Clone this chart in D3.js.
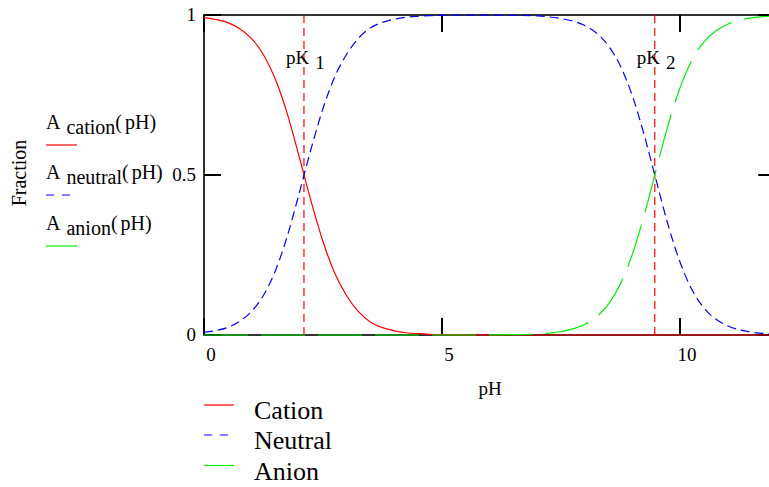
<!DOCTYPE html>
<html>
<head>
<meta charset="utf-8">
<script src="https://cdn.jsdelivr.net/npm/d3@7"></script>
<style>
  html, body { margin: 0; padding: 0; background: #fff; }
  svg { display: block; }
</style>
</head>
<body>
<svg id="chart" width="769" height="487" font-family="'Liberation Serif', 'Times New Roman', Times, 'DejaVu Serif', serif"></svg>
<script>
// ---- data ----
const pH = [0,0.25,0.5,0.75,1,1.25,1.5,1.75,2,2.25,2.5,2.75,3,3.25,3.5,3.75,4,4.25,4.5,4.75,5,5.5,6,6.5,7,7.25,7.5,7.75,8,8.25,8.5,8.75,9,9.25,9.5,9.75,10,10.25,10.5,10.75,11,11.25,11.5,11.75,12];
const cation = [0.992,0.986,0.976,0.957,0.926,0.876,0.799,0.691,0.557,0.418,0.292,0.192,0.122,0.072,0.040,0.023,0.013,0.007,0.004,0.002,0.001,0.0004,0.0001,0,0,0,0,0,0,0,0,0,0,0,0,0,0,0,0,0,0,0,0,0,0];
const neutral = [0.008,0.014,0.024,0.043,0.074,0.124,0.201,0.309,0.443,0.582,0.708,0.808,0.878,0.928,0.960,0.977,0.987,0.993,0.996,0.998,0.999,0.9996,0.9996,0.999,0.997,0.994,0.989,0.981,0.967,0.943,0.903,0.840,0.747,0.624,0.483,0.344,0.228,0.142,0.085,0.050,0.029,0.016,0.009,0.005,0.003];
const anion = [0,0,0,0,0,0,0,0,0,0,0,0,0,0,0,0,0,0,0,0,0,0,0.0003,0.001,0.003,0.006,0.011,0.019,0.033,0.057,0.097,0.160,0.253,0.376,0.517,0.656,0.772,0.858,0.915,0.950,0.971,0.984,0.991,0.995,0.997];
const pKValues = [2.1, 9.47];
const pKLabels = ["1", "2"];
const xTicks = [0, 5, 10];
const yTicks = [0, 0.5, 1];
const yTickLabels = ["0", "0.5", "1"];
const seriesNames = ["Cation", "Neutral", "Anion"];
const seriesFuncNames = ["cation", "neutral", "anion"];

// ---- drawing ----
const svg = d3.select("#chart");
const x = d3.scaleLinear().domain([0, 12]).range([204, 775.2]);
const y = d3.scaleLinear().domain([0, 1]).range([335, 15]);

const colors = ["#ff0000", "#0000ff", "#00ee00"];
const dashes = [null, "9,5", "44,13"];
const legendDashes = [null, "8,8", null];
const series = [cation, neutral, anion];

// frame
svg.append("rect")
  .attr("x", x(0)).attr("y", y(1))
  .attr("width", x(12) - x(0)).attr("height", y(0) - y(1))
  .attr("fill", "none").attr("stroke", "#000").attr("stroke-width", 1.6);

// ticks (inward, all four sides)
const tl = 17;
const tickG = svg.append("g").attr("stroke", "#000").attr("stroke-width", 2);
xTicks.forEach(t => {
  tickG.append("line").attr("x1", x(t)).attr("x2", x(t)).attr("y1", y(0)).attr("y2", y(0) - tl);
  tickG.append("line").attr("x1", x(t)).attr("x2", x(t)).attr("y1", y(1)).attr("y2", y(1) + tl);
});
yTicks.forEach(t => {
  tickG.append("line").attr("x1", x(0)).attr("x2", x(0) + tl).attr("y1", y(t)).attr("y2", y(t));
  tickG.append("line").attr("x1", x(12)).attr("x2", x(12) - tl).attr("y1", y(t)).attr("y2", y(t));
});

// tick labels
xTicks.forEach(t => {
  svg.append("text").attr("x", x(t) + 7).attr("y", 361)
    .attr("text-anchor", "middle").attr("font-size", 19).text(String(t));
});
yTicks.forEach((t, i) => {
  svg.append("text").attr("x", 196).attr("y", y(t) + 6)
    .attr("text-anchor", "end").attr("font-size", 19).text(yTickLabels[i]);
});

// pK vertical lines
pKValues.forEach((k, i) => {
  svg.append("line").attr("x1", x(k)).attr("x2", x(k)).attr("y1", y(1)).attr("y2", y(0))
    .attr("stroke", "#ff0000").attr("stroke-width", 1.2).attr("stroke-dasharray", "8,5");
  const t = svg.append("text").attr("x", x(k) - 18).attr("y", 64).attr("font-size", 19);
  t.append("tspan").text("pK");
  t.append("tspan").attr("dx", 6).attr("dy", 5).text(pKLabels[i]);
});

// curves
const line = d3.line().x(d => x(d[0])).y(d => y(d[1])).curve(d3.curveMonotoneX);
series.forEach((vals, i) => {
  const pts = pH.map((p, j) => [p, vals[j]]);
  svg.append("path").attr("d", line(pts))
    .attr("fill", "none").attr("stroke", colors[i]).attr("stroke-width", 1.2)
    .attr("stroke-dasharray", dashes[i]);
});

// axis titles
svg.append("text").attr("x", 490).attr("y", 395).attr("text-anchor", "middle")
  .attr("font-size", 19).text("pH");
svg.append("text").attr("transform", "translate(26,173) rotate(-90)")
  .attr("text-anchor", "middle").attr("font-size", 20).text("Fraction");

// left function legend
const leftBase = [129, 179, 230];
seriesFuncNames.forEach((nm, i) => {
  const t = svg.append("text").attr("x", 46).attr("y", leftBase[i]).attr("font-size", 20);
  t.append("tspan").text("A");
  t.append("tspan").attr("dx", 6).attr("dy", 5).text(nm);
  t.append("tspan").attr("dy", -5).text("(");
  t.append("tspan").attr("dx", 3).text("pH)");
  svg.append("line").attr("x1", 46).attr("x2", 77)
    .attr("y1", leftBase[i] + 16).attr("y2", leftBase[i] + 16)
    .attr("stroke", colors[i]).attr("stroke-width", 1.2)
    .attr("stroke-dasharray", legendDashes[i]);
});

// bottom legend
const botLine = [405, 435, 465.5];
seriesNames.forEach((nm, i) => {
  svg.append("line").attr("x1", 204).attr("x2", 234)
    .attr("y1", botLine[i]).attr("y2", botLine[i])
    .attr("stroke", colors[i]).attr("stroke-width", 1.2)
    .attr("stroke-dasharray", legendDashes[i]);
  svg.append("text").attr("x", 254).attr("y", botLine[i] + 14)
    .attr("font-size", 26).text(nm);
});
</script>
</body>
</html>
